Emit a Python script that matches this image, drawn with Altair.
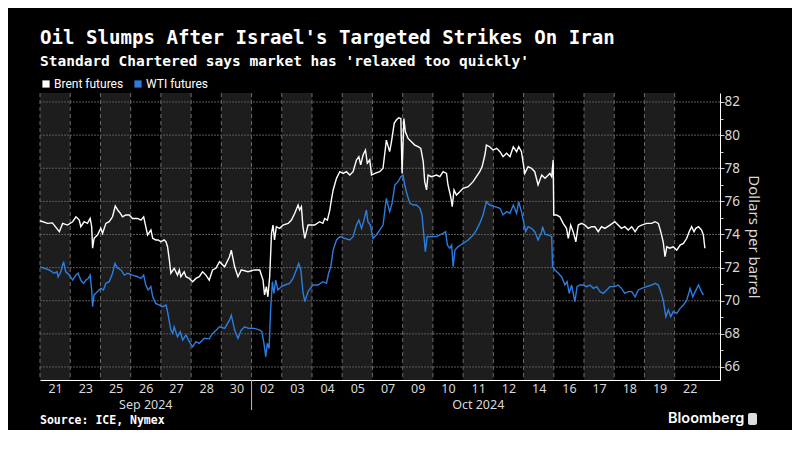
import altair as alt
import pandas as pd

# ---------------- data ----------------
day_labels = ["21", "23", "25", "26", "27", "28", "30", "02", "03", "04", "05",
              "07", "09", "10", "11", "12", "14", "16", "17", "18", "19", "22"]
month_labels = ["Sep 2024", "Oct 2024"]
month_first_col = [0, 7]

series_names = ["Brent futures", "WTI futures"]
series_colors = ["#ffffff", "#2b7de0"]
y_ticks = list(range(66, 83))

# x is measured in trading-session columns (one column per labelled day)
brent_t = [0.0, 0.25, 0.41, 0.64, 0.75, 0.91, 1.08, 1.19, 1.30, 1.35, 1.46, 1.57, 1.66, 1.71,
           1.74, 1.79, 1.90, 2.01, 2.07, 2.18, 2.29, 2.40, 2.49, 2.57, 2.66, 2.73, 2.84, 2.95,
           3.06, 3.23, 3.34, 3.43, 3.50, 3.56, 3.67, 3.73, 3.83, 3.91, 4.00, 4.11, 4.17, 4.22,
           4.28, 4.33, 4.44, 4.55, 4.61, 4.66, 4.77, 4.83, 4.94, 5.05, 5.16, 5.27, 5.38, 5.49,
           5.60, 5.71, 5.82, 5.94, 6.11, 6.27, 6.33, 6.44, 6.55, 6.66, 6.88, 7.10, 7.27, 7.38,
           7.43, 7.49, 7.54, 7.60, 7.66, 7.71, 7.76, 7.82, 7.93, 8.04, 8.21, 8.32, 8.43, 8.54,
           8.59, 8.65, 8.70, 8.76, 8.87, 8.98, 9.09, 9.25, 9.36, 9.42, 9.51, 9.59, 9.64, 9.70,
           9.81, 9.92, 10.03, 10.14, 10.25, 10.36, 10.47, 10.55, 10.61, 10.69, 10.77, 10.83,
           10.91, 10.97, 11.08, 11.24, 11.35, 11.46, 11.57, 11.63, 11.72, 11.79, 11.87, 11.94,
           11.98, 12.04, 12.09, 12.18, 12.29, 12.40, 12.51, 12.60, 12.68, 12.73, 12.79, 12.84,
           12.95, 13.12, 13.23, 13.34, 13.45, 13.50, 13.59, 13.64, 13.70, 13.78, 13.89, 14.00,
           14.17, 14.33, 14.44, 14.55, 14.63, 14.72, 14.77, 14.88, 14.99, 15.11, 15.22, 15.32,
           15.44, 15.55, 15.66, 15.77, 15.84, 15.93, 15.99, 16.04, 16.15, 16.26, 16.37, 16.48,
           16.60, 16.71, 16.82, 16.87, 16.93, 16.98, 17.00, 17.09, 17.20, 17.31, 17.42, 17.48,
           17.56, 17.64, 17.73, 17.81, 17.92, 18.03, 18.14, 18.25, 18.36, 18.47, 18.58, 18.69,
           18.86, 19.02, 19.13, 19.24, 19.35, 19.46, 19.58, 19.69, 19.80, 19.91, 20.07, 20.24,
           20.35, 20.46, 20.54, 20.62, 20.68, 20.74, 20.84, 20.95, 21.07, 21.18, 21.29, 21.40,
           21.48, 21.56, 21.64, 21.70, 21.79, 21.89, 21.95, 22.00]
brent_price = [74.83, 74.67, 74.70, 74.17, 74.67, 74.57, 74.77, 75.07, 74.87, 74.47, 74.77, 74.67,
               74.97, 74.47, 73.17, 73.77, 73.97, 74.37, 74.07, 74.67, 74.77, 75.07, 75.72, 75.48,
               75.28, 75.07, 75.18, 75.18, 74.97, 74.97, 74.87, 75.07, 74.47, 73.97, 74.27, 73.77,
               73.67, 73.67, 73.56, 73.67, 73.56, 73.26, 72.46, 71.66, 71.96, 71.55, 71.86, 71.45,
               71.75, 71.45, 71.35, 71.15, 71.35, 71.45, 71.75, 71.55, 71.25, 71.86, 71.96, 72.36,
               72.05, 72.66, 73.06, 72.05, 71.45, 71.86, 71.75, 71.86, 71.86, 71.25, 70.35, 70.85,
               70.24, 71.45, 74.07, 74.57, 73.67, 74.47, 74.37, 74.57, 74.67, 74.87, 75.28, 75.78,
               75.48, 75.68, 74.47, 73.77, 74.57, 74.57, 74.57, 74.77, 74.67, 74.97, 74.87, 75.48,
               76.08, 76.69, 77.39, 77.79, 77.69, 77.79, 77.59, 77.79, 78.50, 78.70, 78.20, 78.80,
               79.10, 78.30, 78.50, 77.59, 77.69, 77.79, 78.00, 79.70, 79.00, 79.60, 80.71, 80.91,
               81.05, 81.00, 77.69, 81.00, 80.20, 79.80, 79.60, 79.40, 79.30, 79.20, 78.40, 77.19,
               76.69, 77.59, 77.49, 77.59, 77.49, 77.79, 77.69, 76.99, 76.28, 75.68, 76.69, 76.38,
               76.58, 76.79, 76.89, 77.19, 77.49, 77.79, 78.10, 78.80, 79.40, 79.30, 79.10, 79.20,
               79.00, 78.70, 78.90, 78.70, 79.30, 79.00, 79.30, 79.00, 78.30, 77.69, 78.10, 78.00,
               77.79, 76.99, 77.59, 77.39, 77.59, 77.69, 77.49, 78.50, 75.18, 75.18, 75.07, 74.67,
               74.37, 73.77, 74.57, 74.17, 73.56, 74.57, 74.67, 74.57, 74.37, 74.47, 74.47, 74.17,
               74.47, 74.37, 74.57, 74.77, 74.57, 74.37, 74.47, 74.27, 74.47, 74.17, 74.47, 74.57,
               74.67, 74.67, 74.77, 74.67, 74.17, 73.56, 72.66, 73.26, 73.17, 73.26, 73.06, 73.36,
               73.46, 73.77, 74.17, 74.47, 74.17, 74.37, 74.47, 74.27, 73.97, 73.17]

wti_t = [0.00, 0.14, 0.30, 0.47, 0.56, 0.60, 0.69, 0.78, 0.85, 0.97, 1.08, 1.19, 1.26, 1.35, 1.44,
         1.52, 1.60, 1.66, 1.71, 1.74, 1.79, 1.90, 2.01, 2.10, 2.18, 2.29, 2.40, 2.48, 2.57, 2.68,
         2.79, 2.90, 3.06, 3.23, 3.34, 3.43, 3.50, 3.58, 3.67, 3.73, 3.83, 3.95, 4.06, 4.17, 4.22,
         4.33, 4.39, 4.44, 4.55, 4.64, 4.72, 4.83, 4.94, 5.05, 5.16, 5.27, 5.44, 5.60, 5.71, 5.82,
         5.94, 6.11, 6.27, 6.33, 6.44, 6.55, 6.66, 6.77, 6.91, 7.10, 7.27, 7.34, 7.41, 7.47, 7.52,
         7.58, 7.63, 7.69, 7.74, 7.80, 7.87, 7.99, 8.10, 8.26, 8.37, 8.48, 8.56, 8.63, 8.70, 8.76,
         8.87, 9.03, 9.20, 9.36, 9.48, 9.55, 9.62, 9.70, 9.81, 9.92, 10.08, 10.25, 10.36, 10.47,
         10.55, 10.64, 10.72, 10.80, 10.85, 10.93, 11.02, 11.13, 11.24, 11.35, 11.46, 11.57, 11.65,
         11.74, 11.85, 11.94, 12.01, 12.07, 12.15, 12.24, 12.35, 12.46, 12.57, 12.64, 12.71, 12.75,
         12.81, 12.95, 13.12, 13.23, 13.34, 13.42, 13.48, 13.56, 13.62, 13.67, 13.73, 13.83, 14.00,
         14.17, 14.33, 14.44, 14.55, 14.66, 14.77, 14.88, 15.05, 15.22, 15.32, 15.44, 15.55, 15.66,
         15.77, 15.84, 15.93, 15.99, 16.07, 16.15, 16.26, 16.37, 16.48, 16.60, 16.63, 16.71, 16.82,
         16.93, 16.96, 17.04, 17.15, 17.26, 17.37, 17.44, 17.51, 17.59, 17.70, 17.77, 17.86, 17.97,
         18.09, 18.20, 18.31, 18.42, 18.53, 18.64, 18.75, 18.86, 19.02, 19.13, 19.24, 19.35, 19.46,
         19.58, 19.69, 19.80, 19.91, 20.07, 20.24, 20.35, 20.46, 20.54, 20.62, 20.71, 20.79, 20.87,
         20.95, 21.07, 21.18, 21.29, 21.40, 21.51, 21.60, 21.68, 21.79, 21.86, 21.95]
wti_price = [72.05, 71.96, 71.86, 71.66, 71.75, 71.45, 71.75, 72.36, 71.75, 71.55, 71.25, 71.55,
             71.66, 71.25, 71.05, 71.25, 71.35, 71.55, 70.65, 69.64, 70.35, 70.55, 70.75, 70.65,
             71.05, 71.15, 71.66, 72.26, 71.96, 71.86, 71.55, 71.66, 71.55, 71.45, 71.35, 71.55,
             70.95, 70.65, 70.85, 70.24, 69.84, 69.74, 69.64, 69.74, 69.34, 68.23, 68.03, 68.43,
             67.83, 68.13, 67.63, 67.93, 67.53, 67.22, 67.53, 67.43, 67.73, 67.70, 68.03, 68.20,
             68.43, 68.33, 68.83, 69.13, 68.23, 67.73, 68.23, 68.43, 68.33, 68.33, 68.23, 68.13,
             67.43, 66.62, 67.43, 67.12, 69.44, 71.15, 70.45, 71.25, 70.65, 70.85, 70.95, 71.05,
             71.35, 71.86, 72.26, 71.86, 70.55, 69.94, 70.55, 70.95, 70.95, 71.15, 71.05, 71.66,
             72.05, 73.06, 73.67, 73.87, 73.77, 73.67, 73.87, 74.57, 74.87, 74.37, 74.87, 75.48,
             74.77, 74.57, 73.77, 73.97, 74.27, 74.57, 76.18, 75.38, 75.88, 76.99, 77.19, 77.49,
             77.59, 76.99, 76.38, 75.88, 75.78, 75.78, 75.58, 75.18, 73.77, 72.96, 73.87, 73.87,
             73.87, 73.97, 74.07, 74.17, 73.36, 73.17, 73.36, 72.05, 73.06, 73.26, 73.46, 73.67,
             73.97, 74.27, 74.67, 75.18, 75.98, 75.78, 75.68, 75.58, 75.18, 75.38, 75.28, 75.78,
             75.28, 75.98, 75.38, 74.87, 74.17, 74.47, 74.37, 74.17, 73.67, 74.17, 74.47, 74.00,
             73.97, 73.87, 72.05, 71.86, 71.66, 71.45, 70.95, 71.15, 70.45, 70.95, 69.94, 70.85,
             70.95, 70.95, 70.85, 70.95, 70.75, 70.85, 70.55, 70.45, 70.65, 70.85, 70.85, 70.95,
             70.75, 70.45, 70.55, 70.55, 70.24, 70.65, 70.75, 70.85, 70.95, 71.05, 70.95, 70.55,
             70.04, 69.04, 69.44, 69.04, 69.34, 69.24, 69.54, 69.74, 70.04, 70.75, 70.24, 70.55,
             70.95, 70.65, 70.34]

# ---------------- tables built from the arrays ----------------
line_df = pd.concat([
    pd.DataFrame({"t": brent_t, "price": brent_price, "series": series_names[0]}),
    pd.DataFrame({"t": wti_t, "price": wti_price, "series": series_names[1]}),
])
n_cols = len(day_labels)
cols_df = pd.DataFrame({
    "c": list(range(n_cols)),
    "c2": [i + 1 for i in range(n_cols)],
    "shaded": [i % 2 == 0 for i in range(n_cols)],
})
bound_df = pd.DataFrame({"b": list(range(n_cols))})
month_end = month_first_col[1:] + [n_cols]
month_df = pd.DataFrame({
    "label": month_labels,
    "start": month_first_col,
    "mid": [(s + e) / 2 for s, e in zip(month_first_col, month_end)],
})
grid_df = pd.DataFrame({"v": [v for v in y_ticks if v % 2 == 0]})

W, H = 680, 287
xscale = alt.Scale(domain=[0, 22.5], nice=False, zero=False)
yscale = alt.Scale(domain=[65.215, 82.543], nice=False, zero=False)
cscale = alt.Scale(domain=series_names, range=series_colors)

label_font = "Noto Sans"
label_color = "#d8d8d8"

label_array = "[" + ",".join('"%s"' % d for d in day_labels) + "]"
xaxis = alt.Axis(values=[i + 0.5 for i in range(n_cols)],
                 labelExpr=label_array + "[floor(datum.value)]",
                 ticks=False, grid=False, domain=True, domainColor="#ffffff",
                 domainWidth=1, labelColor=label_color, labelFont=label_font,
                 labelFontSize=12.5, labelPadding=2, labelOverlap=False,
                 labelFlush=False, title=None)
yaxis = alt.Axis(orient="right", values=y_ticks,
                 labelExpr="datum.value % 2 == 0 ? datum.label : ''",
                 tickSize={"condition": {"test": "datum.value % 2 == 0", "value": 4}, "value": 3},
                 tickColor="#cccccc", domainColor="#ffffff", domainWidth=1, grid=False,
                 labelColor=label_color, labelFont=label_font, labelFontSize=13.5,
                 labelPadding=0, title="Dollars per barrel", titleColor=label_color,
                 titleFont=label_font, titleFontSize=15, titleFontWeight="normal",
                 titleAngle=90, titlePadding=6)

shade = alt.Chart(cols_df).transform_filter("datum.shaded").mark_rect(
    color="#1d1d1d").encode(
    x=alt.X("c:Q", scale=xscale, axis=xaxis), x2="c2:Q")

vgrid = alt.Chart(bound_df).mark_rule(
    color="#6a6a6a", strokeDash=[4, 3], strokeWidth=1).encode(
    x=alt.X("b:Q", scale=xscale, axis=xaxis))

hgrid = alt.Chart(grid_df).mark_rule(
    color="#5a5a5a", strokeDash=[2, 1], strokeWidth=1).encode(
    y=alt.Y("v:Q", scale=yscale, axis=yaxis))

lines = alt.Chart(line_df).mark_line(strokeWidth=1.4).encode(
    x=alt.X("t:Q", scale=xscale, axis=xaxis),
    y=alt.Y("price:Q", scale=yscale, axis=yaxis),
    color=alt.Color("series:N", scale=cscale, legend=None),
)

legend_layer = alt.Chart(line_df).transform_filter("false").mark_square(
    filled=True, size=40, opacity=1).encode(
    x=alt.X("t:Q", scale=xscale, axis=xaxis),
    y=alt.Y("price:Q", scale=yscale, axis=yaxis),
    color=alt.Color("series:N", scale=cscale, legend=alt.Legend(
        orient="none", legendX=0, legendY=-15, direction="horizontal", title=None,
        symbolType="square", symbolSize=52, symbolStrokeWidth=0, symbolOpacity=1,
        labelColor="#ffffff", labelFont="Roboto", labelFontSize=12, labelOffset=2,
        columnPadding=8, padding=0)),
)

sep = alt.Chart(month_df).transform_filter("datum.start > 0").mark_rule(
    color="#bbbbbb", strokeWidth=1).encode(
    x=alt.X("start:Q", scale=xscale, axis=xaxis), y=alt.value(H), y2=alt.value(H + 30))

months = alt.Chart(month_df).mark_text(
    font=label_font, fontSize=12.5, color=label_color, baseline="middle").encode(
    x=alt.X("mid:Q", scale=xscale, axis=xaxis), y=alt.value(H + 25), text="label:N")

source = alt.Chart(pd.DataFrame({"s": ["Source: ICE, Nymex"]})).mark_text(
    align="left", baseline="middle", font="DejaVu Sans Mono", fontWeight="bold",
    fontSize=11.5, color="#ffffff").encode(x=alt.value(0), y=alt.value(H + 41), text="s:N")

brand = alt.Chart(pd.DataFrame({"s": ["Bloomberg"]})).mark_text(
    align="left", baseline="middle", font="Inter", fontWeight=600,
    fontSize=14.5, color="#ffffff").encode(x=alt.value(628), y=alt.value(H + 39), text="s:N")

icon = alt.Chart(pd.DataFrame({"s": ["icon"]})).mark_rect(
    color="#dddddd", cornerRadius=2).encode(
    x=alt.value(708), x2=alt.value(717), y=alt.value(H + 33), y2=alt.value(H + 45))

chart = alt.layer(shade, vgrid, hgrid, lines, legend_layer, sep, months, source, brand, icon).resolve_legend(
    color="independent"
).properties(
    width=W, height=H,
    title=alt.TitleParams(
        text="Oil Slumps After Israel's Targeted Strikes On Iran",
        subtitle="Standard Chartered says market has 'relaxed too quickly'",
        anchor="start", frame="group", font="DejaVu Sans Mono", fontSize=19.1,
        fontWeight="bold", color="#ffffff", subtitleFont="DejaVu Sans Mono",
        subtitleFontSize=14.5, subtitleFontWeight="bold", subtitleColor="#ffffff",
        subtitlePadding=6, offset=10),
    autosize=alt.AutoSizeParams(type="none"),
    padding={"left": 32, "top": 85, "right": 72, "bottom": 50},
).configure(background="#000000").configure_view(stroke=None)

chart.save("out.html", embed_options={"renderer": "svg", "actions": False})
